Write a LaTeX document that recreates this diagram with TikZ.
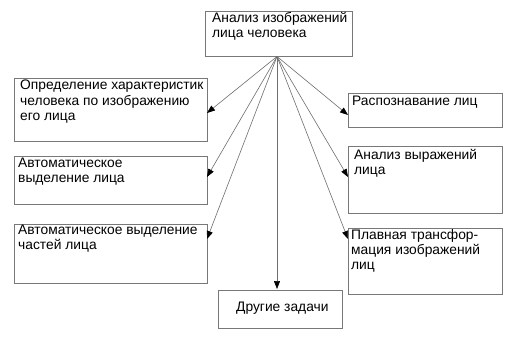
\documentclass[tikz,border=0pt]{standalone}
\usepackage{fontspec}
\setmainfont{Liberation Sans}
\usetikzlibrary{arrows.meta}
\definecolor{boxline}{RGB}{120,120,120}
\definecolor{arrline}{RGB}{110,110,110}
\tikzset{
  box/.style={draw=boxline, line width=0.9pt, anchor=north west, inner sep=0pt},
  txt/.style={anchor=north west, align=left, inner sep=0pt, font=\fontsize{13.8}{15.3}\selectfont, text=black},
  conn/.style={draw=arrline, line width=0.6pt, -{Triangle[length=8pt,width=6pt,color=black]}}
}
\begin{document}
\begin{tikzpicture}[x=1pt,y=-1pt]
\useasboundingbox[fill=white] (0,0) rectangle (520,341);
% boxes
\node[box, minimum width=147, minimum height=45] (top) at (205,11) {};
\node[box, minimum width=193, minimum height=63] (l1) at (14,78) {};
\node[box, minimum width=193, minimum height=48] (l2) at (14,156) {};
\node[box, minimum width=193, minimum height=59] (l3) at (14,224) {};
\node[box, minimum width=154, minimum height=34] (r1) at (348,93) {};
\node[box, minimum width=154, minimum height=67] (r2) at (348,146) {};
\node[box, minimum width=154, minimum height=66] (r3) at (348,228) {};
\node[box, minimum width=124, minimum height=38] (bt) at (218,290) {};
% texts
\node[txt] (topt) at (212,12) {Анализ изображений\\лица человека};
\node[txt] (l1t) at (20,80) {Определение характеристик\\человека по изображению\\его лица};
\node[txt] (l2t) at (18,158) {Автоматическое\\выделение лица};
\node[txt] (l3t) at (18,225) {Автоматическое выделение\\частей лица};
\node[txt] (r1t) at (352,95.5) {Распознавание лиц};
\node[txt] (r2t) at (354,149) {Анализ выражений\\лица};
\node[txt] (r3t) at (351,229) {Плавная трансфор-\\мация изображений\\лиц};
\node[txt] (btt) at (236,302) {Другие задачи};
% connectors
\coordinate (src) at (277,56.5);
\coordinate (e1) at (207,113);
\coordinate (e2) at (207,177);
\coordinate (e3) at (207,239);
\coordinate (e4) at (348,115);
\coordinate (e5) at (348,177);
\coordinate (e6) at (348,239);
\coordinate (e7) at (277,289);
\draw[conn] (src) -- (e1);
\draw[conn] (src) -- (e2);
\draw[conn] (src) -- (e3);
\draw[conn] (src) -- (e4);
\draw[conn] (src) -- (e5);
\draw[conn] (src) -- (e6);
\draw[conn] (src) -- (e7);
\end{tikzpicture}
\end{document}
